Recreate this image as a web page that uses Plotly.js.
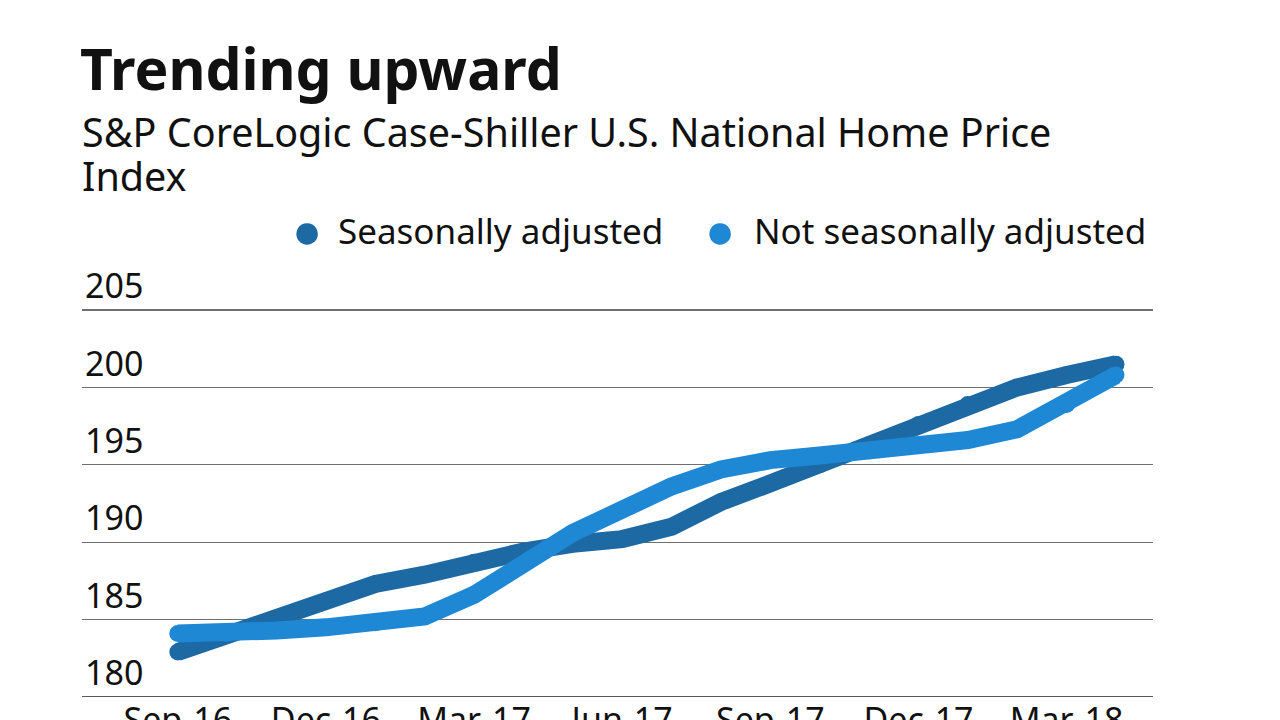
<!DOCTYPE html>
<html>
<head>
<meta charset="utf-8">
<script src="https://cdn.plot.ly/plotly-3.0.1.min.js"></script>
<style>html,body{margin:0;padding:0;background:#fff;}#chart{width:1280px;height:720px;}</style>
</head>
<body>
<div id="chart"></div>
<script>
const months = ["Sep-16","Oct-16","Nov-16","Dec-16","Jan-17","Feb-17","Mar-17","Apr-17","May-17","Jun-17","Jul-17","Aug-17","Sep-17","Oct-17","Nov-17","Dec-17","Jan-18","Feb-18","Mar-18","Apr-18"];
const seasonallyAdjusted = [182.9,184.0,185.1,186.2,187.3,187.9,188.7,189.4,189.9,190.2,191.0,192.6,193.8,195.0,196.3,197.6,198.9,200.0,200.8,201.5];
const notSeasonallyAdjusted = [184.1,184.1,184.3,184.5,184.8,185.2,186.6,188.6,190.6,192.1,193.6,194.7,195.3,195.6,195.9,196.3,196.6,197.3,198.9,200.8];
const xTicks = ["Sep-16","Dec-16","Mar-17","Jun-17","Sep-17","Dec-17","Mar-18"];
const yTicks = [180,185,190,195,200,205];
const seriesNames = ["Seasonally adjusted","Not seasonally adjusted"];
const subtitleLines = ["S&P CoreLogic Case-Shiller U.S. National Home Price", "Index"];

const darkColor = "#1d69a4";
const lightColor = "#1e88d4";
const FONT = "'Noto Sans', sans-serif";

const traces = [
  {x: months, y: seasonallyAdjusted, type: "scatter", mode: "lines+markers",
   line: {color: darkColor, width: 18}, marker: {color: darkColor, size: 17}, showlegend: false, hoverinfo: "skip"},
  {x: months, y: notSeasonallyAdjusted, type: "scatter", mode: "lines+markers",
   line: {color: lightColor, width: 18}, marker: {color: lightColor, size: 17}, showlegend: false, hoverinfo: "skip"}
];

// plot area: x 82..1153, y 250..697 ; 180 at 697, 205 at 310
const PL = 82, PR = 1153, PT = 250, PB = 697;
const unitPx = (697 - 310) / 25;
const yTop = 180 + (PB - PT) / unitPx;
const px = v => (v - PL) / (PR - PL);
const py = v => (PB - v) / (PB - PT);

const legendFont = {family: FONT, size: 35, color: "#111"};
const annotations = [
  {text: subtitleLines[0], xref: "paper", yref: "paper", x: px(80), xanchor: "left",
   y: py(132), yanchor: "middle", showarrow: false, align: "left",
   font: {family: FONT, size: 39.5, color: "#111"}},
  {text: subtitleLines[1], xref: "paper", yref: "paper", x: px(80), xanchor: "left",
   y: py(176), yanchor: "middle", showarrow: false, align: "left",
   font: {family: FONT, size: 39.5, color: "#111"}},
  {text: "●", xref: "paper", yref: "paper", x: px(307), xanchor: "center", y: py(229), yanchor: "middle",
   showarrow: false, font: {family: FONT, size: 50, color: darkColor}},
  {text: seriesNames[0], xref: "paper", yref: "paper", x: px(336), xanchor: "left", y: py(230), yanchor: "middle",
   showarrow: false, font: legendFont},
  {text: "●", xref: "paper", yref: "paper", x: px(720), xanchor: "center", y: py(229), yanchor: "middle",
   showarrow: false, font: {family: FONT, size: 50, color: lightColor}},
  {text: seriesNames[1], xref: "paper", yref: "paper", x: px(752), xanchor: "left", y: py(230), yanchor: "middle",
   showarrow: false, font: legendFont}
];

const layout = {
  width: 1280, height: 720,
  margin: {l: PL, r: 1280 - PR, t: PT, b: 720 - PB},
  paper_bgcolor: "#fff", plot_bgcolor: "rgba(0,0,0,0)",
  font: {family: FONT, color: "#111", size: 34},
  showlegend: false,
  title: {text: "<b>Trending upward</b>", xref: "container", yref: "container",
          x: 80/1280, xanchor: "left", y: 1 - 70/720, yanchor: "middle",
          font: {family: FONT, size: 57, color: "#111"}},
  annotations: annotations,
  xaxis: {type: "category", range: [-1.94, 19.75], tickmode: "array", tickvals: xTicks, ticktext: xTicks,
          showgrid: false, zeroline: false, showline: false, ticks: "", ticklen: 0,
          tickfont: {family: FONT, size: 34, color: "#111"}, fixedrange: true},
  yaxis: {range: [180, yTop], tickmode: "array", tickvals: yTicks, ticktext: yTicks.map(String),
          showgrid: true, gridcolor: "#6f6f6f", gridwidth: 1.2, zeroline: false, showline: false,
          ticks: "", ticklabelposition: "inside top",
          tickfont: {family: FONT, size: 34, color: "#111"}, fixedrange: true},
  shapes: [{type: "line", xref: "paper", yref: "y", x0: 0, x1: 1, y0: 180, y1: 180,
            line: {color: "#222", width: 1.5}}]
};

Plotly.newPlot("chart", traces, layout, {displayModeBar: false, staticPlot: true});
</script>
</body>
</html>
